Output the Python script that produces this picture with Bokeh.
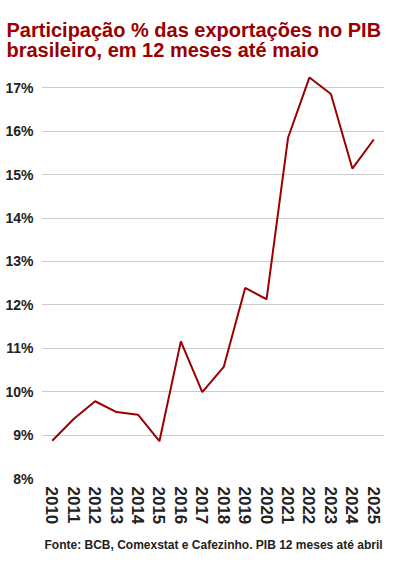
from bokeh.plotting import figure
from bokeh.models import Title, FactorRange, Range1d, FixedTicker
from bokeh.embed import file_html
from bokeh.resources import INLINE

years = ["2010", "2011", "2012", "2013", "2014", "2015", "2016", "2017",
         "2018", "2019", "2020", "2021", "2022", "2023", "2024", "2025"]
share = [8.87, 9.37, 9.78, 9.53, 9.47, 8.86, 11.16, 9.99,
         10.57, 12.39, 12.13, 15.85, 17.24, 16.86, 15.14, 15.81]
y_ticks = [8, 9, 10, 11, 12, 13, 14, 15, 16, 17]
y_tick_labels = ["8%", "9%", "10%", "11%", "12%", "13%", "14%", "15%", "16%", "17%"]

title_text = "Participação % das exportações no PIB\nbrasileiro, em 12 meses até maio"
footer_text = "Fonte: BCB, Comexstat e Cafezinho. PIB 12 meses até abril"

RED = "#990000"
FONT = "Liberation Sans"

p = figure(width=392, height=559, x_range=FactorRange(*years),
           y_range=Range1d(8, 17.4), output_backend="svg",
           toolbar_location=None, title=None,
           min_border_left=41, min_border_right=8,
           min_border_top=70, min_border_bottom=81)

p.outline_line_color = None
p.background_fill_color = "white"
p.border_fill_color = "white"

p.line(x=years, y=share, line_color=RED, line_width=2)

# y axis
p.yaxis.ticker = FixedTicker(ticks=y_ticks)
p.yaxis.major_label_overrides = {t: l for t, l in zip(y_ticks, y_tick_labels)}
p.yaxis.axis_line_color = None
p.yaxis.major_tick_line_color = None
p.yaxis.minor_tick_line_color = None
p.yaxis.major_tick_out = 0
p.yaxis.major_tick_in = 0
p.yaxis.major_label_standoff = 8
p.yaxis.major_label_text_font = FONT
p.yaxis.major_label_text_font_style = "bold"
p.yaxis.major_label_text_font_size = "14px"
p.yaxis.major_label_text_color = "#222222"

# x axis
p.xaxis.axis_line_color = None
p.xaxis.major_tick_line_color = None
p.xaxis.minor_tick_line_color = None
p.xaxis.major_tick_out = 0
p.xaxis.major_tick_in = 0
p.xaxis.major_label_standoff = 8
p.xaxis.major_label_orientation = "vertical"
p.xaxis.major_label_text_font = FONT
p.xaxis.major_label_text_font_style = "bold"
p.xaxis.major_label_text_font_size = "17px"
p.xaxis.major_label_text_color = "#222222"

p.xgrid.grid_line_color = None
p.ygrid.grid_line_color = "#cccccc"
p.ygrid.grid_line_width = 1

title = Title(text=title_text, align="left", offset=-35, standoff=18,
              text_font=FONT, text_font_style="bold", text_font_size="20px",
              text_color=RED, text_line_height=0.95)
p.add_layout(title, "above")

footer = Title(text=footer_text, align="left", offset=3, standoff=16,
               text_font=FONT, text_font_style="bold", text_font_size="12px",
               text_color="#222222")
p.add_layout(footer, "below")

open("out.html", "w").write(file_html(p, INLINE))
